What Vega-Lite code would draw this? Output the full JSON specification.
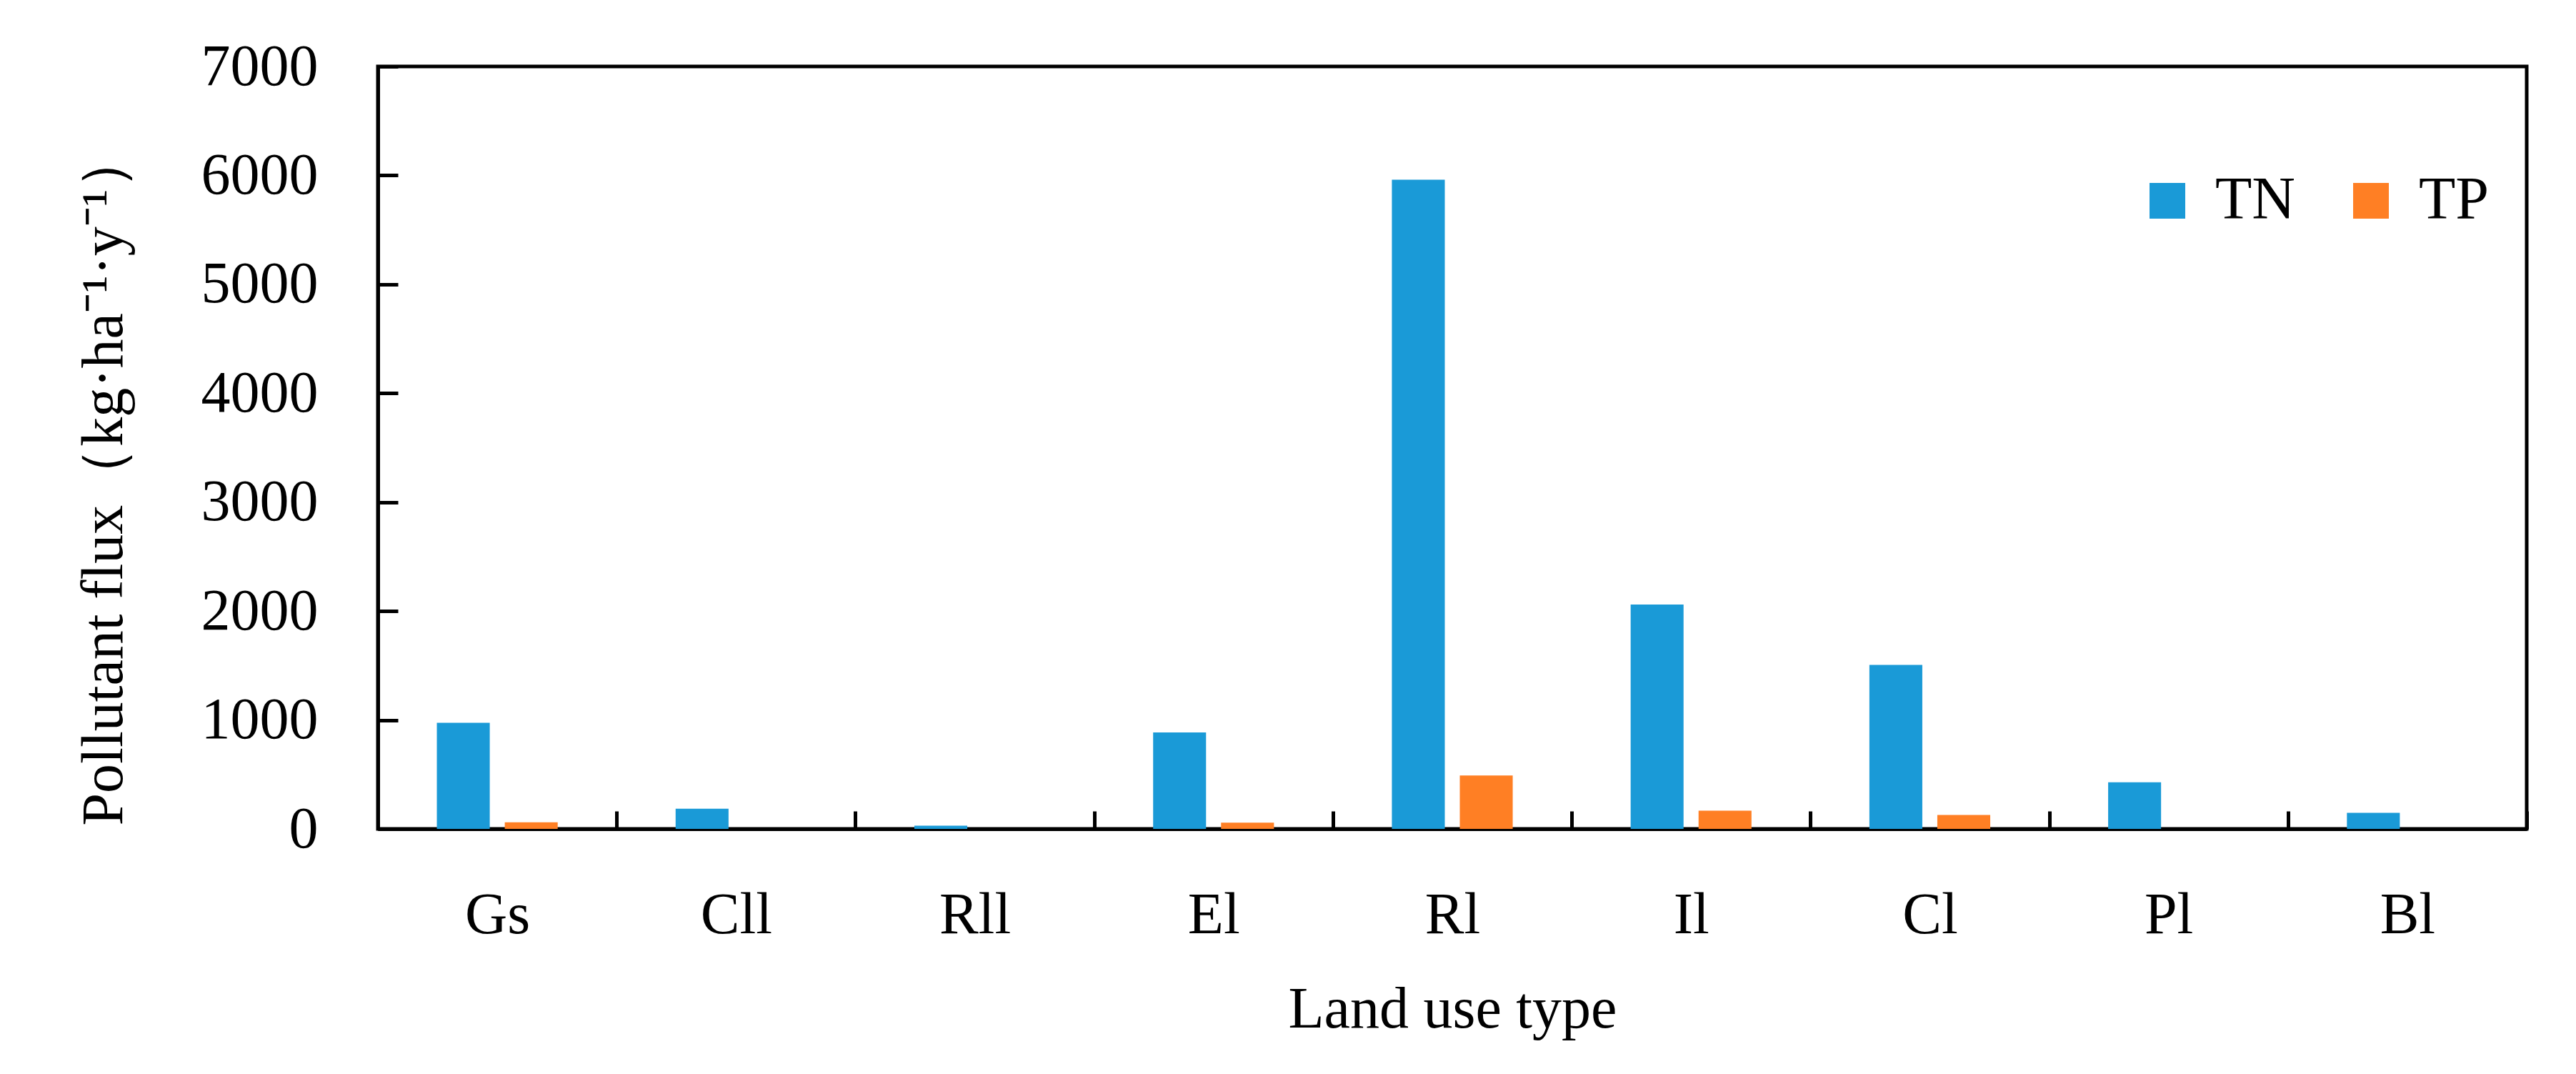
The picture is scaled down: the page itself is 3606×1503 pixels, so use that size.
{
  "$schema": "https://vega.github.io/schema/vega-lite/v6.json",
  "width": 3008,
  "height": 1067,
  "autosize": {"type": "none"},
  "padding": {"left": 529, "top": 93, "right": 69, "bottom": 343},
  "background": "white",
  "config": {
    "font": "Liberation Serif",
    "view": {"stroke": "black", "strokeWidth": 5},
    "axis": {
      "grid": false,
      "domainColor": "black",
      "domainWidth": 5,
      "tickColor": "black",
      "tickWidth": 5,
      "labelColor": "black",
      "titleColor": "black",
      "labelFontSize": 82,
      "titleFontSize": 82,
      "titleFontWeight": "normal",
      "labelFont": "Liberation Serif",
      "titleFont": "Liberation Serif",
      "labelLimit": 0,
      "titleLimit": 0
    },
    "legend": {"labelFont": "Liberation Serif", "labelColor": "black", "labelLimit": 0}
  },
  "data": {
    "values": [
      {"land": "Gs", "nutrient": "TN", "flux": 975},
      {"land": "Gs", "nutrient": "TP", "flux": 60},
      {"land": "Cll", "nutrient": "TN", "flux": 185},
      {"land": "Cll", "nutrient": "TP", "flux": 0},
      {"land": "Rll", "nutrient": "TN", "flux": 30},
      {"land": "Rll", "nutrient": "TP", "flux": 0},
      {"land": "El", "nutrient": "TN", "flux": 885},
      {"land": "El", "nutrient": "TP", "flux": 58},
      {"land": "Rl", "nutrient": "TN", "flux": 5960},
      {"land": "Rl", "nutrient": "TP", "flux": 490},
      {"land": "Il", "nutrient": "TN", "flux": 2060},
      {"land": "Il", "nutrient": "TP", "flux": 168},
      {"land": "Cl", "nutrient": "TN", "flux": 1505},
      {"land": "Cl", "nutrient": "TP", "flux": 128},
      {"land": "Pl", "nutrient": "TN", "flux": 428},
      {"land": "Pl", "nutrient": "TP", "flux": 0},
      {"land": "Bl", "nutrient": "TN", "flux": 148},
      {"land": "Bl", "nutrient": "TP", "flux": 0}
    ]
  },
  "mark": {"type": "bar"},
  "encoding": {
    "x": {
      "field": "land",
      "type": "nominal",
      "sort": ["Gs", "Cll", "Rll", "El", "Rl", "Il", "Cl", "Pl", "Bl"],
      "scale": {"paddingInner": 0, "paddingOuter": 0},
      "axis": {
        "title": "Land use type",
        "labelAngle": 0,
        "tickBand": "extent",
        "tickSize": -25,
        "labelPadding": 105,
        "titleY": 277,
        "titleBaseline": "alphabetic"
      }
    },
    "xOffset": {
      "field": "nutrient",
      "type": "nominal",
      "sort": ["TN", "TP"],
      "scale": {"paddingInner": 0.221, "paddingOuter": 0.868}
    },
    "y": {
      "field": "flux",
      "type": "quantitative",
      "scale": {"domain": [0, 7000]},
      "axis": {
        "values": [0, 1000, 2000, 3000, 4000, 5000, 6000, 7000],
        "format": "d",
        "tickSize": -28,
        "labelPadding": 112,
        "title": "Pollutant flux（kg·ha⁻¹·y⁻¹）",
        "titleX": -359,
        "titleY": 1062,
        "titleAlign": "left",
        "titleAngle": -90,
        "titleBaseline": "alphabetic"
      }
    },
    "color": {
      "field": "nutrient",
      "type": "nominal",
      "scale": {"domain": ["TN", "TP"], "range": ["#1A9AD7", "#FF7F24"]},
      "legend": {
        "title": null,
        "orient": "none",
        "direction": "horizontal",
        "legendX": 2463,
        "legendY": 146,
        "symbolType": "square",
        "symbolSize": 2500,
        "symbolStrokeWidth": 0,
        "symbolOpacity": 1,
        "labelFontSize": 84,
        "labelOffset": 25,
        "columnPadding": 64,
        "padding": 0
      }
    }
  }
}
